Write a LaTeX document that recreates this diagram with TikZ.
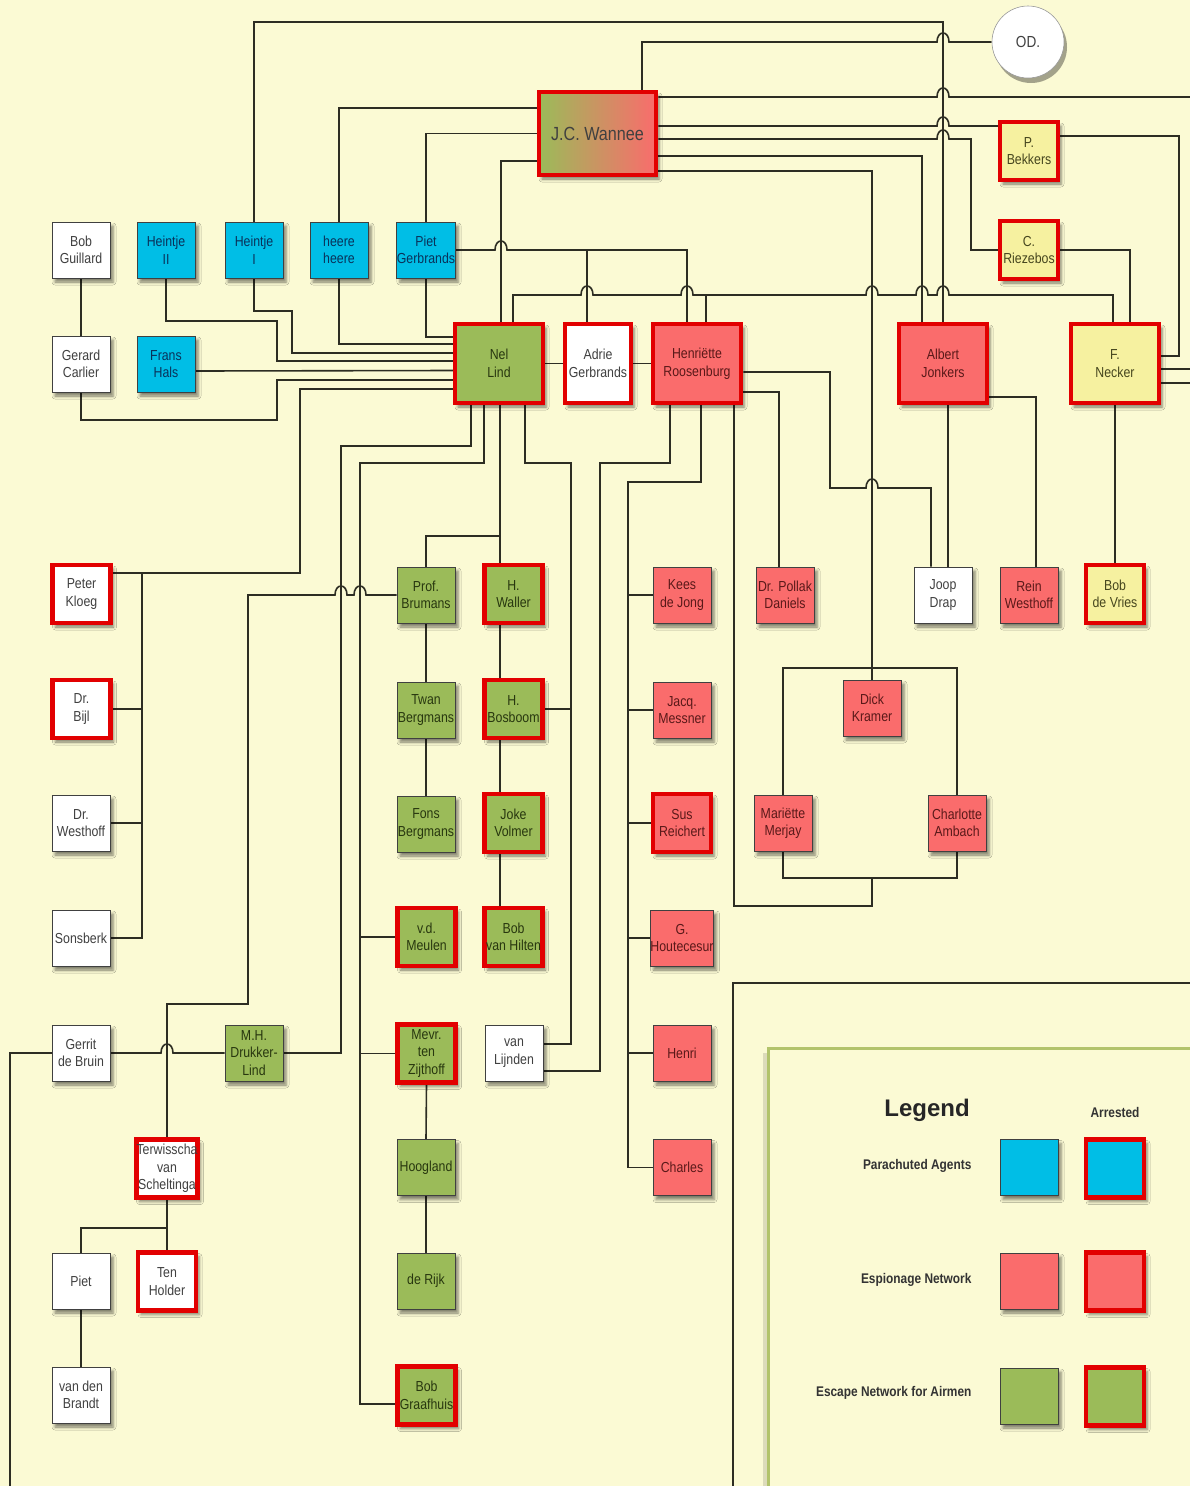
\documentclass[tikz,border=0pt]{standalone}
\usepackage{fontspec}
\newfontfamily\nf[FakeStretch=0.85]{Liberation Sans}
\newfontfamily\lf{Liberation Sans}
\usetikzlibrary{shadows.blur,calc,backgrounds}
\definecolor{bgC}{RGB}{251,250,212}
\definecolor{blueF}{RGB}{0,190,230}
\definecolor{pinkF}{RGB}{250,108,108}
\definecolor{greenF}{RGB}{155,187,89}
\definecolor{yellowF}{RGB}{246,241,160}
\definecolor{arrRed}{RGB}{226,0,0}
\definecolor{lineC}{RGB}{45,45,35}
\definecolor{legendC}{RGB}{178,195,107}
\definecolor{blueT}{RGB}{10,50,90}
\definecolor{pinkT}{RGB}{90,25,25}
\definecolor{greenT}{RGB}{40,55,15}
\definecolor{yellowT}{RGB}{70,70,30}
\pgfdeclarelayer{lnl}
\pgfsetlayers{background,lnl,main}
\newcommand\jumpR[2]{-- (#1-6,#2) .. controls (#1-6,#2-12) and (#1+6,#2-12) .. (#1+6,#2)}
\newcommand\jumpL[2]{-- (#1+6,#2) .. controls (#1+6,#2-12) and (#1-6,#2-12) .. (#1-6,#2)}
\tikzset{
  nd/.style={rectangle, draw=black!75, line width=0.8pt, minimum width=58pt, minimum height=56pt,
    inner sep=0pt, align=center, font=\nf\fontsize{14.5}{17.5}\selectfont,
    blur shadow={shadow xshift=3pt, shadow yshift=-4pt, shadow blur radius=3pt, shadow opacity=50}},
  arr/.style={draw=arrRed, line width=4.5pt, minimum height=58pt},
  big/.style={minimum width=88pt, minimum height=79pt},
  adr/.style={minimum width=66pt, minimum height=79pt},
  wh/.style={fill=white, text=black!75},
  bl/.style={fill=blueF, text=blueT},
  pk/.style={fill=pinkF, text=pinkT},
  gr/.style={fill=greenF, text=greenT},
  ye/.style={fill=yellowF, text=yellowT},
  conn/.style={draw=lineC, line width=1.6pt},
  lgl/.style={anchor=east, font=\nf\bfseries\fontsize{14}{16}\selectfont, text=black!80},
}
\begin{document}
\pagecolor{bgC}
\begin{tikzpicture}[x=1pt,y=-1pt, show background rectangle,
  background rectangle/.style={fill=bgC, draw=none}, inner frame sep=0pt]
\useasboundingbox (0,0) rectangle (1190,1486);

% top
\fill[black, opacity=0.35] (1031,47) circle[radius=36];
\node[circle, draw=black!40, line width=0.6pt, fill=white, minimum size=72pt, inner sep=0pt,
  font=\nf\fontsize{16}{18}\selectfont, text=black!75] (od) at (1028,42) {OD.};
\node[nd, arr, minimum width=117pt, minimum height=83pt, fill=pinkF, text=black!75,
  path picture={\shade[left color=greenF, right color=pinkF] (path picture bounding box.south west) rectangle (path picture bounding box.north east);},
  font=\nf\fontsize{19}{22}\selectfont] (wannee) at (597.5,133.5) {J.C. Wannee};
\node[nd,ye,arr] (bekkers) at (1029,151) {P.\\Bekkers};
\node[nd,ye,arr] (riezebos) at (1029,250) {C.\\Riezebos};

\node[nd,wh] (guillard) at (81,250) {Bob\\Guillard};
\node[nd,bl] (heintjeII) at (166,250) {Heintje\\II};
\node[nd,bl] (heintjeI) at (254,250) {Heintje\\I};
\node[nd,bl] (heere) at (339,250) {heere\\heere};
\node[nd,bl] (pietg) at (426,250) {Piet\\Gerbrands};

\node[nd,wh] (carlier) at (81,364) {Gerard\\Carlier};
\node[nd,bl] (frans) at (166,364) {Frans\\Hals};
\node[nd,gr,arr,big] (nel) at (499,363.5) {Nel\\Lind};
\node[nd,wh,arr,adr] (adrie) at (598,363.5) {Adrie\\Gerbrands};
\node[nd,pk,arr,big] (henriette) at (697,363.5) {Henriëtte\\Roosenburg};
\node[nd,pk,arr,big] (jonkers) at (943,363.5) {Albert\\Jonkers};
\node[nd,ye,arr,big] (necker) at (1115,363.5) {F.\\Necker};

\node[nd,wh,arr] (kloeg) at (81.5,594) {Peter\\Kloeg};
\node[nd,gr] (brumans) at (426,595) {Prof.\\Brumans};
\node[nd,gr,arr] (waller) at (513.5,594) {H.\\Waller};
\node[nd,pk] (kees) at (682,595) {Kees\\de Jong};
\node[nd,pk] (pollak) at (785,595) {Dr. Pollak\\Daniels};
\node[nd,wh] (drap) at (943,595) {Joop\\Drap};
\node[nd,pk] (rein) at (1029,595) {Rein\\Westhoff};
\node[nd,ye,arr] (devries) at (1115,594) {Bob\\de Vries};

\node[nd,wh,arr] (bijl) at (81.5,709) {Dr.\\Bijl};
\node[nd,gr] (twan) at (426,710) {Twan\\Bergmans};
\node[nd,gr,arr] (bosboom) at (513.5,709) {H.\\Bosboom};
\node[nd,pk] (messner) at (682,710) {Jacq.\\Messner};
\node[nd,pk] (kramer) at (872,708) {Dick\\Kramer};

\node[nd,wh] (drwesthoff) at (81,823) {Dr.\\Westhoff};
\node[nd,gr] (fons) at (426,824) {Fons\\Bergmans};
\node[nd,gr,arr] (volmer) at (513.5,823) {Joke\\Volmer};
\node[nd,pk,arr] (reichert) at (682,823) {Sus\\Reichert};
\node[nd,pk] (merjay) at (783,823) {Mariëtte\\Merjay};
\node[nd,pk] (ambach) at (957,823) {Charlotte\\Ambach};

\node[nd,wh] (sonsberk) at (81,938) {Sonsberk};
\node[nd,gr,arr] (meulen) at (426.5,937) {v.d.\\Meulen};
\node[nd,gr,arr] (hilten) at (513.5,937) {Bob\\van Hilten};
\node[nd,pk] (houtecesur) at (682,938) {G.\\Houtecesur};

\node[nd,wh] (bruin) at (81,1053) {Gerrit\\de Bruin};
\node[nd,gr] (drukker) at (254,1053) {M.H.\\Drukker-\\Lind};
\node[nd,gr,arr] (zijthoff) at (426.5,1053.5) {Mevr.\\ten\\Zijthoff};
\node[nd,wh] (lijnden) at (514,1053) {van\\Lijnden};
\node[nd,pk] (henri) at (682,1053) {Henri};

\node[nd,wh,arr] (terwisscha) at (167,1168.5) {Terwisscha\\van\\Scheltinga};
\node[nd,gr] (hoogland) at (426,1167.5) {Hoogland};
\node[nd,pk] (charles) at (682,1167.5) {Charles};

\node[nd,wh] (piet) at (81,1281) {Piet};
\node[nd,wh,arr] (tenholder) at (167,1281.5) {Ten\\Holder};
\node[nd,gr] (derijk) at (426,1281) {de Rijk};

\node[nd,wh] (brandt) at (81,1395) {van den\\Brandt};
\node[nd,gr,arr] (graafhuis) at (426.5,1395.5) {Bob\\Graafhuis};

% legend
\draw[draw=black, opacity=0.12, line width=4pt] (765,1053) -- (765,1510);
\draw[draw=legendC, line width=3pt] (768,1048) rectangle (1210,1510);
\node[font=\lf\bfseries\fontsize{24}{28}\selectfont, text=black!85] (lgTitle) at (927,1110) {Legend};
\node[font=\nf\bfseries\fontsize{14}{16}\selectfont, text=black!80] (lgArr) at (1115,1112) {Arrested};
\node[lgl] (lgA) at (975,1166) {Parachuted Agents};
\node[lgl] (lgE) at (975,1280) {Espionage Network};
\node[lgl] (lgS) at (975,1393) {Escape Network for Airmen};
\node[nd,bl] (lgA1) at (1029,1167.5) {};
\node[nd,bl,arr] (lgA2) at (1115,1168.5) {};
\node[nd,pk] (lgE1) at (1029,1281) {};
\node[nd,pk,arr] (lgE2) at (1115,1281.5) {};
\node[nd,gr] (lgS1) at (1029,1396) {};
\node[nd,gr,arr] (lgS2) at (1115,1396.5) {};

\begin{pgfonlayer}{lnl}
\coordinate (offA) at (1190,97);
\coordinate (offB) at (1190,369);
\coordinate (offC) at (1190,383);
\coordinate (offD) at (10,1486);
\coordinate (offE) at (733,1486);
\coordinate (offF) at (1190,983);
% Wannee and top
\draw[conn] (heintjeI.north) -- (254,22) -- (943,22) -- (jonkers.north);
\draw[conn] ([xshift=44.5]wannee.north) -- (642,42) \jumpR{943}{42} -- (od.west);
\draw[conn] (heere.north) |- ([yshift=25.5]wannee.west);
\draw[conn] (pietg.north) |- (wannee.west);
\draw[conn] ([yshift=-27.5]wannee.west) -| ([xshift=2]nel.north);
\draw[conn] ([yshift=36.5]wannee.east) \jumpR{943}{97} -- (offA);
\draw[conn] ([yshift=7.5]wannee.east) \jumpR{943}{126} -- ([yshift=25]bekkers.west);
\draw[conn] ([yshift=-5.5]wannee.east) \jumpR{943}{139} -- (971,139) |- (riezebos.west);
\draw[conn] ([yshift=-22.5]wannee.east) -| ([xshift=-21]jonkers.north);
\draw[conn] ([yshift=-37.5]wannee.east) -| (kramer.north);
% Piet Gerbrands to Adrie / Henriette
\coordinate (jA) at (587,250);
\draw[conn] (pietg.east) \jumpR{501}{250} -- (687,250) -- ([xshift=-10]henriette.north);
\draw[conn] (jA) -- ([xshift=-11]adrie.north);
% Nel - Henriette - Necker
\coordinate (jB) at (706,295);
\draw[conn] ([xshift=14]nel.north) -- (513,295) \jumpR{587}{295} \jumpR{687}{295} \jumpR{872}{295}
  \jumpR{922}{295} \jumpR{943}{295} -- (1113,295) -- ([xshift=-2]necker.north);
\draw[conn] (jB) -- ([xshift=9]henriette.north);
% right column
\draw[conn] (riezebos.east) -| ([xshift=15]necker.north);
\draw[conn] ([yshift=15]bekkers.east) -- (1179,136) |- ([yshift=7.5]necker.east);
\draw[conn] ([yshift=-5.5]necker.east) -- (offB);
\draw[conn] ([yshift=-19.5]necker.east) -- (offC);
\draw[conn] (necker.south) -- (devries.north);
\draw[conn] ([xshift=5]jonkers.south) -- ([xshift=5]drap.north);
\draw[conn] ([yshift=-33.5]jonkers.east) -| ([xshift=7]rein.north);
% Henriette
\draw[conn] ([yshift=-8.5]henriette.east) -- (830,372) -- (830,488) \jumpR{872}{488} -- (931,488) -- ([xshift=-12]drap.north);
\draw[conn] ([yshift=-28.5]henriette.east) -| ([xshift=-6]pollak.north);
\draw[conn] ([xshift=-27]henriette.south) -- (670,463) -- (600,463) |- ([yshift=-18]lijnden.east);
\coordinate (tH) at (628,482);
\draw[conn] ([xshift=4]henriette.south) -- (701,482) -- (tH) |- (charles.west);
\foreach \n in {kees,messner,reichert,houtecesur,henri} \draw[conn] (\n.west) -- (\n.west -| tH);
\coordinate (mTop) at (872,668);
\coordinate (mBot) at (872,878);
\draw[conn] ([xshift=37]henriette.south) -- (734,906) -| (mBot);
\draw[conn] (merjay.south) |- (mBot) -| (ambach.south);
\draw[conn] (merjay.north) |- (mTop) -| (ambach.north);
\draw[conn] (nel.east) -- (adrie.west);
\draw[conn] (adrie.east) -- (henriette.west);
% Nel left side
\draw[conn] (pietg.south) |- ([yshift=26.5]nel.west);
\draw[conn] (heere.south) |- ([yshift=19.5]nel.west);
\draw[conn] (heintjeI.south) -- (254,311) -- (292,311) |- ([yshift=10.5]nel.west);
\draw[conn] (heintjeII.south) -- (166,321) -- (277,321) |- ([yshift=2.5]nel.west);
\draw[conn] ([yshift=-7]frans.east) -- ([yshift=-7]nel.west);
\draw[conn] (carlier.south) -- (81,420) -- (277,420) |- ([yshift=-16.5]nel.west);
\draw[conn] (guillard.south) -- (carlier.north);
\coordinate (tK) at (142,573);
\draw[conn] ([yshift=-25.5]nel.west) -- (300,389) |- ([yshift=21]kloeg.east);
\draw[conn] (tK) |- (sonsberk.east);
\foreach \n in {bijl,drwesthoff} \draw[conn] (\n.east) -- (\n.east -| tK);
% Nel bottom
\draw[conn] ([xshift=-28]nel.south) -- (471,446) -- (341,446) |- (drukker.east);
\coordinate (tM) at (360,463);
\draw[conn] ([xshift=-15]nel.south) -- (484,463) -- (tM) |- ([yshift=-8.5]graafhuis.west);
\foreach \n in {meulen,zijthoff} \draw[conn] (\n.west) -- (\n.west -| tM);
\coordinate (jW) at (500,536);
\draw[conn] ([xshift=1]nel.south) -- (jW) -- ([xshift=-13.5]waller.north);
\draw[conn] (jW) -| (brumans.north);
\coordinate (tL) at (571,463);
\draw[conn] ([xshift=26]nel.south) -- (525,463) -- (tL) |- ([yshift=9]lijnden.east);
\draw[conn] (bosboom.east) -- (bosboom.east -| tL);
\draw[conn] (brumans.west) \jumpL{360}{595} \jumpL{341}{595} -- (248,595) -- (248,1004) -- (167,1004) -- (terwisscha.north);
% chains
\draw[conn] (brumans.south) -- (twan.north);
\draw[conn] (twan.south) -- (fons.north);
\draw[conn] ([xshift=-13.5]waller.south) -- ([xshift=-13.5]bosboom.north);
\draw[conn] ([xshift=-13.5]bosboom.south) -- ([xshift=-13.5]volmer.north);
\draw[conn] ([xshift=-13.5]volmer.south) -- ([xshift=-13.5]hilten.north);
\draw[conn] (zijthoff.south) -- (hoogland.north);
\draw[conn] (hoogland.south) -- (derijk.north);
\draw[conn] (bruin.east) \jumpR{167}{1053} -- (drukker.west);
\draw[conn] (bruin.west) -- (10,1053) -- (offD);
\coordinate (jT) at (167,1228);
\draw[conn] (terwisscha.south) -- (tenholder.north);
\draw[conn] (jT) -| (piet.north);
\draw[conn] (piet.south) -- (brandt.north);
\draw[conn] (offE) -- (733,983) -- (offF);
\end{pgfonlayer}
\end{tikzpicture}
\end{document}
